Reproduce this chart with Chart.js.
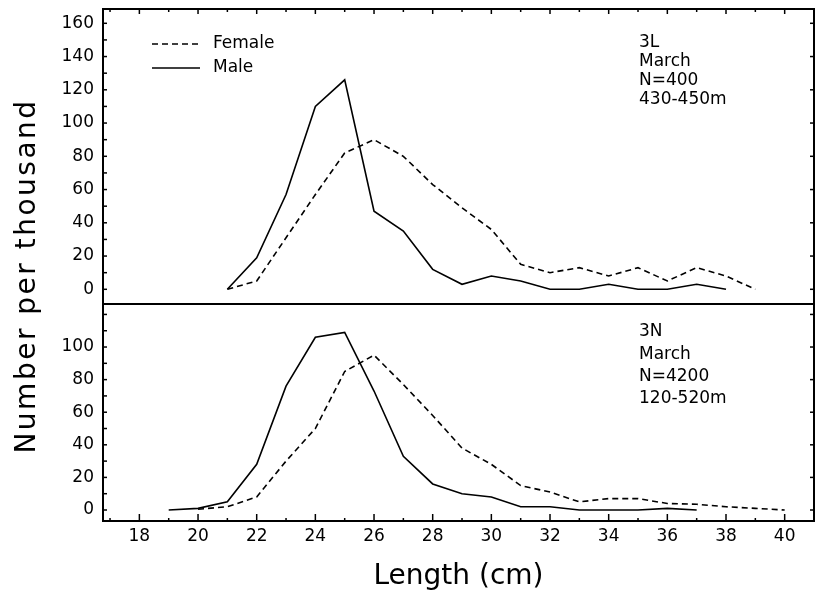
<!DOCTYPE html>
<html>
<head>
<meta charset="utf-8">
<script src="https://cdn.jsdelivr.net/npm/chart.js@4.4.1/dist/chart.umd.min.js"></script>
<style>
html,body{margin:0;padding:0;background:#fff;}
#wrap{width:815px;height:595px;position:relative;}
</style>
</head>
<body>
<div id="wrap"><canvas id="c" width="815" height="595"></canvas></div>
<script>
// ---- Data ----
const lengthsMale3L   = [21,22,23,24,25,26,27,28,29,30,31,32,33,34,35,36,37,38];
const male3L          = [0,19,57,110,126,47,35,12,3,8,5,0,0,3,0,0,3,0];
const lengthsFemale3L = [21,22,23,24,25,26,27,28,29,30,31,32,33,34,35,36,37,38,39];
const female3L        = [0,5,31,57,82,90,80,63,49,36,15,10,13,8,13,5,13,8,0];

const lengthsMale3N   = [19,20,21,22,23,24,25,26,27,28,29,30,31,32,33,34,35,36,37];
const male3N          = [0,1,5,28,76,106,109,73,33,16,10,8,2,2,0,0,0,1,0];
const lengthsFemale3N = [20,21,22,23,24,25,26,27,28,29,30,31,32,33,34,35,36,37,38,39,40];
const female3N        = [0.5,2,8,30,50,85,95,77,58,38,28,15,11,5,7,7,4,3.5,2,1,0];

const seriesNames = ['Female','Male'];
const note3L = ['3L','March','N=400','430-450m'];
const note3N = ['3N','March','N=4200','120-520m'];
const xTitle = 'Length (cm)';
const yTitle = 'Number per thousand';

const FONT = "'DejaVu Sans', sans-serif";
const toPts = (xs, ys) => xs.map((x, i) => ({x: x, y: ys[i]}));

const femaleStyle = {borderColor:'#000', borderWidth:1.6, borderDash:[6,4], pointRadius:0, tension:0, fill:false};
const maleStyle   = {borderColor:'#000', borderWidth:1.6, borderDash:[], pointRadius:0, tension:0, fill:false};

const decor = {
  id: 'decor',
  afterDraw(chart) {
    const {ctx, chartArea: a, scales} = chart;
    const sx = scales.x, sL = scales.yL, sN = scales.yN;
    ctx.save();
    ctx.strokeStyle = '#000';
    ctx.fillStyle = '#000';
    // frame and divider
    ctx.lineWidth = 2;
    ctx.strokeRect(a.left, a.top, a.right - a.left, a.bottom - a.top);
    ctx.beginPath();
    ctx.moveTo(a.left, sL.bottom); ctx.lineTo(a.right, sL.bottom);
    ctx.stroke();
    // inward x ticks (top and bottom)
    ctx.lineWidth = 1.5;
    const seg = (x1, y1, x2, y2) => { ctx.beginPath(); ctx.moveTo(x1, y1); ctx.lineTo(x2, y2); ctx.stroke(); };
    sx.ticks.forEach(t => {
      const v = t.value;
      if (v < sx.min || v > sx.max) return;
      const px = sx.getPixelForValue(v);
      const major = Math.round(v) % 2 === 0;
      seg(px, a.bottom, px, a.bottom - (major ? 7 : 3));
      seg(px, a.top, px, a.top + (major ? 5 : 3));
    });
    // inward y ticks (left every 10, right every 20)
    [sL, sN].forEach(s => {
      s.ticks.forEach(t => {
        const v = t.value;
        if (v < s.min || v > s.max) return;
        const py = s.getPixelForValue(v);
        seg(a.left, py, a.left + 4, py);
        if (Math.round(v) % 20 === 0) seg(a.right, py, a.right - 4, py);
      });
    });
    // legend
    const ds = chart.data.datasets;
    const legY = [a.top + 35, a.top + 59];
    [ds[0], ds[1]].forEach((d, i) => {
      ctx.save();
      ctx.lineWidth = d.borderWidth;
      ctx.setLineDash(d.borderDash || []);
      seg(152, legY[i], 200, legY[i]);
      ctx.restore();
      ctx.font = '17px ' + FONT;
      ctx.textBaseline = 'middle';
      ctx.textAlign = 'left';
      ctx.fillText(seriesNames[i], 213, legY[i]);
    });
    // panel notes
    ctx.font = '17px ' + FONT;
    ctx.textBaseline = 'middle';
    ctx.textAlign = 'left';
    const nx = 639;
    note3L.forEach((s, i) => ctx.fillText(s, nx, a.top + 34 + i * 18.8));
    note3N.forEach((s, i) => ctx.fillText(s, nx, sN.top + 28 + i * 22.2));
    // shared y title
    ctx.save();
    ctx.translate(28, 276);
    ctx.rotate(-Math.PI / 2);
    ctx.font = '28px ' + FONT;
    try { ctx.letterSpacing = '2.5px'; } catch (e) {}
    ctx.textAlign = 'center';
    ctx.textBaseline = 'middle';
    ctx.fillText(yTitle, 0, 0);
    ctx.restore();
    ctx.restore();
  }
};

const yCommon = (weight, min, max, maxLabel) => ({
  type: 'linear', position: 'left', stack: 'panels', stackWeight: weight,
  min: min, max: max,
  grid: {display: false, drawTicks: false},
  border: {display: false},
  ticks: {
    stepSize: 10, autoSkip: false, includeBounds: false, padding: 9, color: '#000',
    font: {family: FONT, size: 17},
    callback: v => (Math.round(v) % 20 === 0 && v >= 0 && v <= maxLabel) ? String(v) : ''
  },
  afterFit: s => { s.width = 103; s.paddingTop = 0; s.paddingBottom = 0; }
});

new Chart(document.getElementById('c'), {
  type: 'line',
  data: {
    datasets: [
      Object.assign({label: seriesNames[0] + ' 3L', data: toPts(lengthsFemale3L, female3L), yAxisID: 'yL'}, femaleStyle),
      Object.assign({label: seriesNames[1] + ' 3L', data: toPts(lengthsMale3L, male3L), yAxisID: 'yL'}, maleStyle),
      Object.assign({label: seriesNames[0] + ' 3N', data: toPts(lengthsFemale3N, female3N), yAxisID: 'yN'}, femaleStyle),
      Object.assign({label: seriesNames[1] + ' 3N', data: toPts(lengthsMale3N, male3N), yAxisID: 'yN'}, maleStyle)
    ]
  },
  options: {
    responsive: false,
    animation: false,
    devicePixelRatio: 1,
    layout: {padding: {top: 9, right: 1, left: 0, bottom: 0}},
    plugins: {legend: {display: false}, tooltip: {enabled: false}},
    scales: {
      x: {
        type: 'linear', position: 'bottom', min: 16.76, max: 41.0,
        grid: {display: false, drawTicks: false},
        border: {display: false},
        ticks: {
          stepSize: 1, autoSkip: false, includeBounds: false, maxRotation: 0, padding: 5, color: '#000',
          font: {family: FONT, size: 17},
          callback: v => (Math.round(v) % 2 === 0) ? String(v) : ''
        },
        title: {display: true, text: xTitle, color: '#000', font: {family: FONT, size: 28}, padding: {top: 0, bottom: 1}},
        afterFit: s => { s.height = 74; s.paddingLeft = 0; s.paddingRight = 0; }
      },
      yN: yCommon(217, -6.75, 126.4, 100),
      yL: yCommon(295, -8.84, 168.6, 160)
    }
  },
  plugins: [decor]
});
</script>
</body>
</html>
